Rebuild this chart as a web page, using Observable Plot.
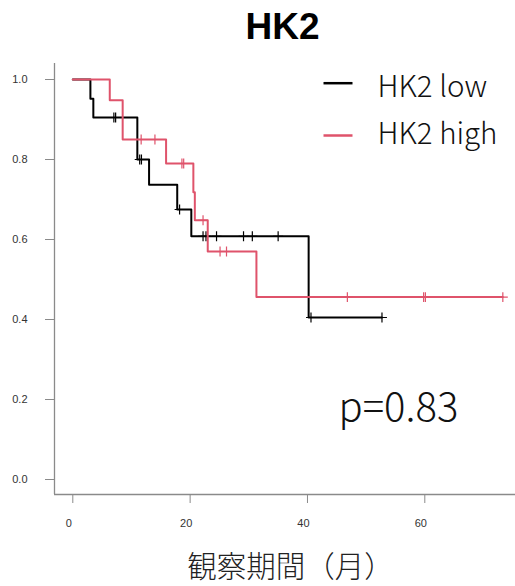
<!DOCTYPE html>
<html><head><meta charset="utf-8">
<script src="https://cdn.jsdelivr.net/npm/d3@7"></script>
<script src="https://cdn.jsdelivr.net/npm/@observablehq/plot@0.6"></script>
<style>body{margin:0;background:#fff} #chart svg{display:block}</style>
</head><body><div id="chart"></div>
<script>
// ---- data ----
const lowTimes = [0, 3.0, 3.5, 11.0, 13.0, 17.8, 20.2, 40.2];
const lowSurv  = [1, 0.952, 0.905, 0.80, 0.737, 0.675, 0.608, 0.405];
const lowEnd = 52.7;
const lowCensor = [7.0, 7.3, 11.4, 11.7, 18.2, 22.2, 22.7, 24.5, 29.1, 30.6, 35.0, 40.6, 52.7];
const highTimes = [0, 6.3, 8.5, 15.9, 20.55, 20.8, 23.0, 31.3];
const highSurv  = [1, 0.948, 0.85, 0.79, 0.718, 0.648, 0.57, 0.456];
const highEnd = 73.3;
const highCensor = [11.65, 14.0, 18.6, 18.9, 22.2, 25.1, 26.2, 46.8, 59.8, 60.1, 73.3];
const groups = ["HK2 low", "HK2 high"];
const groupColors = ["#000000", "#DF536B"];
const xTicks = [0, 20, 40, 60];
const yTicks = [0, 0.2, 0.4, 0.6, 0.8, 1.0];
const titleText = "HK2";
const xLabel = "観察期間（月）";
const pText = "p=0.83";

// ---- helpers ----
const curve = (times, surv, end) =>
  [...times.map((t, i) => ({t, s: surv[i]})), {t: end, s: surv[surv.length - 1]}];
const stepAt = (times, surv, t) => { let v = surv[0]; times.forEach((x, i) => { if (x <= t) v = surv[i]; }); return v; };
const cens = (c, times, surv) => c.map(t => ({t, s: stepAt(times, surv, t)}));

const lowCurve = curve(lowTimes, lowSurv, lowEnd);
const highCurve = curve(highTimes, highSurv, highEnd);
const lowCens = cens(lowCensor, lowTimes, lowSurv);
const highCens = cens(highCensor, highTimes, highSurv);

const xDomain = [-3.12, 75.46];
const yDomain = [-0.0375, 1.04];
const hline = {draw(ctx, size) { const r = Math.sqrt(size / Math.PI); ctx.moveTo(-r, 0); ctx.lineTo(r, 0); }};
const axisGray = "#8a8a8a";
const labelGray = "#333";
const jp = "'Noto Sans CJK JP', 'Noto Sans', sans-serif";

const legendLineY = [19.7, 72];
const legendTextY = [24.3, 70.9];

const chart = Plot.plot({
  width: 515, height: 586,
  marginLeft: 54, marginRight: 0, marginTop: 63, marginBottom: 92,
  style: {fontFamily: "'Liberation Sans', Arial, sans-serif", background: "#fff"},
  x: {domain: xDomain, axis: null, label: null},
  y: {domain: yDomain, axis: null, label: null},
  marks: [
    Plot.ruleX([xDomain[0]], {stroke: axisGray, strokeWidth: 1.3}),
    Plot.ruleY([yDomain[0]], {stroke: axisGray, strokeWidth: 1.3}),
    Plot.axisY({ticks: yTicks, tickSize: 9, tickPadding: 18, tickFormat: d3.format(".1f"), stroke: axisGray, fill: labelGray, fontSize: 11, label: null}),
    Plot.axisX({ticks: xTicks, tickSize: 9, tickFormat: () => "", stroke: axisGray, label: null}),
    Plot.axisX({ticks: xTicks, tickSize: 0, tickPadding: 25, dx: -4, fill: labelGray, fontSize: 11, label: null}),
    Plot.line(lowCurve, {x: "t", y: "s", curve: "step-after", stroke: groupColors[0], strokeWidth: 2}),
    Plot.dot(lowCens, {x: "t", y: "s", symbol: "plus", r: 3.3, stroke: groupColors[0], strokeWidth: 1.2}),
    Plot.line(highCurve, {x: "t", y: "s", curve: "step-after", stroke: groupColors[1], strokeWidth: 2}),
    Plot.dot(highCens, {x: "t", y: "s", symbol: "plus", r: 3.3, stroke: groupColors[1], strokeWidth: 1.2}),
    ...groups.map((g, i) => Plot.dot([g], {frameAnchor: "top-left", dx: 283.5, dy: legendLineY[i], symbol: hline, r: 14.5, fill: "none", stroke: groupColors[i], strokeWidth: 2.5})),
    ...groups.map((g, i) => Plot.text([g], {text: d => d, frameAnchor: "top-left", lineAnchor: "middle", textAnchor: "start", dx: 323, dy: legendTextY[i], fontSize: 29.5, fontWeight: 300, fontFamily: jp, fill: "#111"})),
    Plot.text([titleText], {text: d => d, frameAnchor: "top", lineAnchor: "middle", dx: -2.5, dy: -36.5, fontSize: 37, fontWeight: "bold", fill: "#000"}),
    Plot.text([pText], {text: d => d, frameAnchor: "top-left", lineAnchor: "middle", textAnchor: "start", dx: 284, dy: 344.2, fontSize: 40, fontWeight: 300, fontFamily: jp, fill: "#111"}),
    Plot.text([xLabel], {text: d => d, frameAnchor: "bottom", lineAnchor: "middle", dx: 5.5, dy: 72.8, fontSize: 29.5, fontWeight: 300, fontFamily: jp, fill: "#222"})
  ]
});
document.getElementById("chart").appendChild(chart);
</script>
</body></html>
